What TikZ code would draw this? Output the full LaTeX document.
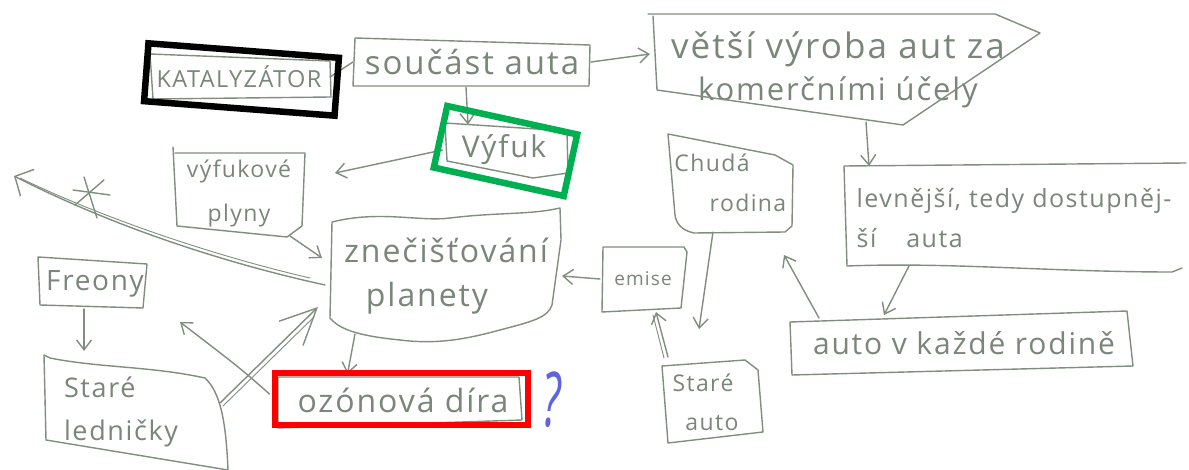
\documentclass[tikz,border=0pt]{standalone}
\usepackage{fontspec}
\usepackage{graphicx}
\setmainfont{Open Sans}[LetterSpace=6]
\usetikzlibrary{arrows.meta,calc}

\definecolor{ink}{RGB}{128,142,128}
\definecolor{inktext}{RGB}{122,134,122}
\definecolor{qblue}{RGB}{92,100,222}
\definecolor{frgreen}{RGB}{0,176,80}
\definecolor{frred}{RGB}{255,0,0}

\newcommand\hsz[2]{\fontsize{#1}{#2}\selectfont}

\tikzset{
  box/.style={shape=rectangle, inner sep=0pt, outer sep=0pt, text=inktext, align=center},
  outline/.style={draw=ink, line width=1.4pt, line join=round, line cap=round},
  link/.style={draw=ink, line width=1.4pt, line cap=round},
  arr/.style={link, -{Straight Barb[length=10pt,width=15pt]}},
  hl/.style={shape=rectangle, inner sep=0pt, outer sep=0pt, line width=6.5pt, fill=none},
}

\begin{document}
\begin{tikzpicture}[x=1pt, y=-1pt]
\useasboundingbox (0,0) rectangle (1189,470);
\fill[white] (0,0) rectangle (1189,470);

% ---- concept nodes (text) ----
\node[box, minimum width=182pt, minimum height=45pt, font=\hsz{23.5}{28}] (kat) at (239,77) {KATALYZÁTOR};
\node[box, minimum width=238pt, minimum height=50pt, font=\hsz{33}{38}] (sou) at (472,62) {součást auta};
\node[box, minimum width=366pt, minimum height=112pt, font=\hsz{31}{42}] (vet) at (838,70) {{\hsz{35}{42}větší výroba aut za}\\komerčními účely};
\node[box, minimum width=123pt, minimum height=55pt, font=\hsz{30}{34}] (vyf) at (504,150) {Výfuk};
\node[box, minimum width=132pt, minimum height=86pt, font=\hsz{23}{44}] (vp) at (239,193) {výfukové\\plyny};
\node[box, minimum width=232pt, minimum height=128pt, font=\hsz{32}{44}] (zn) at (446,276) {znečišťování\\planety\hspace*{38pt}};
\node[box, minimum width=247pt, minimum height=46pt, font=\hsz{32}{36}] (oz) at (403,400) {ozónová díra};
\node[box, minimum width=86pt, minimum height=64pt, font=\hsz{19}{22}] (emi) at (643,279) {emise};
\node[box, minimum width=126pt, minimum height=98pt, font=\hsz{23}{40}] (chud) at (730,183) {Chudá\hspace*{36pt}\\\hspace*{36pt}rodina};
\node[box, minimum width=330pt, minimum height=104pt, font=\hsz{25}{40}, align=left] (lev) at (1014,218) {levnější, tedy dostupněj-\\ší\hspace{1.2em}auta};
\node[box, minimum width=342pt, minimum height=60pt, font=\hsz{30}{34}] (akr) at (964,343) {auto v každé rodině};
\node[box, minimum width=100pt, minimum height=82pt, font=\hsz{23}{39}] (sa) at (712,402) {Staré\hspace*{18pt}\\auto};
\node[box, minimum width=109pt, minimum height=50pt, font=\hsz{28}{32}] (fre) at (95,284) {Freony};
\node[box, minimum width=180pt, minimum height=112pt, font=\hsz{27}{43}, align=left] (led) at (121,412) {Staré\\ledničky};
\node[text=qblue, font=\hsz{72}{72}\itshape] (q) at (552,400) {\scalebox{0.6}[1.05]{?}};

% ---- hand-drawn box outlines ----
\draw[outline] (150,54) -- (330,61) -- (331,97) -- (153,99) -- cycle;
\draw[outline] (355,38) -- (590,45) -- (589,86) -- (353,86) -- cycle;
\draw[outline] (648,14) -- (995,14) -- (1040,33) -- (903,125) -- (657,90) -- (653,16);
\draw[outline] (445,123) -- (567,131) -- (568,173) -- (533,178) -- (447,161) -- cycle;
\draw[outline] (173,147) -- (177,226) -- (287,237) -- (302,226) -- (305,153) -- (175,153);
\draw[outline] (332,222) .. controls (380,210) and (420,222) .. (450,218)
  .. controls (500,212) and (530,215) .. (560,208) -- (561,240) -- (552,305)
  .. controls (548,318) and (530,322) .. (500,330)
  .. controls (470,338) and (440,345) .. (400,340)
  .. controls (360,336) and (340,330) .. (330,318) -- cycle;
\draw[outline] (278,377) -- (519,377) -- (522,420) -- (278,428) -- cycle;
\draw[outline] (603,247) -- (684,247) -- (687,252) -- (681,308) -- (602,312) -- cycle;
\draw[outline] (668,134) -- (775,155) -- (793,165) -- (792,226) -- (785,232) -- (694,233)
  .. controls (680,230) and (676,222) .. (675,215) -- cycle;
\draw[outline] (1186,163) -- (844,166) -- (847,266)
  .. controls (950,262) and (1050,272) .. (1172,272) -- (1182,268);
\draw[outline] (790,322) -- (1127,311) -- (1133,366) -- (792,375) -- cycle;
\draw[outline] (662,366) -- (745,360) -- (758,370) -- (763,432) -- (668,443) -- cycle;
\draw[outline] (38,257) -- (147,264) -- (143,308) -- (40,305) -- cycle;
\draw[outline] (44,355) -- (46,440) -- (228,470) .. controls (226,420) and (220,392) .. (205,378)
  .. controls (150,366) and (100,368) .. (50,358) -- cycle;

% ---- connectors ----
\draw[link] (kat.east) -- (sou.west);
\draw[arr] (sou.east) -- ($(vet.west)+(-5,-16)$);
\draw[arr] ($(sou.south)+(-6,0)$) -- ($(vyf.north)+(-36,2)$);
\draw[arr] (vyf.west) -- ($(vp.east)+(30,-20)$);
\draw[arr] ($(vp.south east)+(-15,0)$) -- ($(zn.west)+(-8,-18)$);

\coordinate (tip) at (14,176);
\draw[link, -{Straight Barb[length=14pt,width=30pt]}] ($(zn.west)+(-5,9)$)
  .. controls (220,262) and (110,225) .. (tip);
\draw[link, line width=0.9pt] ($(zn.west)+(-20,2)$) .. controls (215,256) and (105,219) .. (20,178);
\coordinate (star) at (88,197);
\draw[link] ($(star)+(-4,-20)$) -- ($(star)+(9,21)$);
\draw[link] ($(star)+(-15,-7)$) -- ($(star)+(22,-2)$);
\draw[link] ($(star)+(-13,8)$) -- ($(star)+(16,-17)$);

\draw[arr] ($(fre.south)+(-11,0)$) -- ($(led.north)+(-37,-5)$);
\draw[link, -{Straight Barb[length=36pt,width=34pt]}] ($(led.east)+(9,-9)$) -- ($(zn.west)+(-12,31)$);
\draw[link, line width=0.9pt] ($(led.east)+(12,-6)$) -- ($(zn.west)+(-16,41)$);

\coordinate (ozend) at (180,322);
\draw[arr] ($(oz.west)+(-10,-6)$) .. controls (240,368) .. (ozend);
\draw[arr] ($(zn.south west)+(25,-6)$) -- ($(oz.north west)+(68,-3)$);
\draw[arr] (emi.west) -- (zn.east);
\draw[arr] ($(chud.south)+(-17,0)$) -- ($(sa.north)+(-13,-32)$);
\draw[arr] ($(sa.north west)+(6,-4)$) -- ($(emi.south)+(13,1)$);
\draw[link, line width=0.9pt] ($(sa.north west)+(2,-3)$) -- ($(emi.south)+(10,4)$);
\draw[arr] ($(akr.north west)+(26,5)$) -- ($(chud.south east)+(-9,23)$);
\draw[arr] ($(lev.south west)+(60,-4)$) -- ($(akr.north)+(-80,2)$);
\draw[arr] ($(vet.south)+(28,-4)$) -- ($(lev.north west)+(20,0)$);

% ---- highlight frames ----
\node[hl, draw=black, rotate=-4.35, minimum width=191pt, minimum height=58pt] (katframe) at (241.5,79.5) {};
\node[hl, draw=frgreen, rotate=-12.35, minimum width=133pt, minimum height=63pt] (vyfframe) at (505.5,151) {};
\node[hl, draw=frred, minimum width=253pt, minimum height=52pt] (ozframe) at (401.5,399) {};
\end{tikzpicture}
\end{document}
